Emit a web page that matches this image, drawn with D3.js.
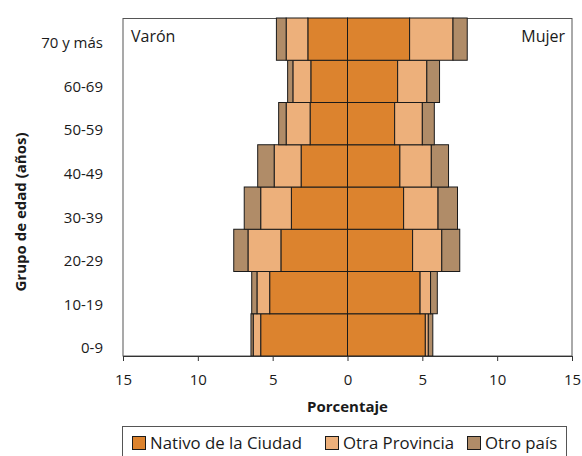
<!DOCTYPE html>
<html lang="es">
  <head>
    <meta charset="utf-8">
    <title>Pirámide por origen</title>
    <script type="text/javascript" src="https://cdn.jsdelivr.net/npm/d3@7"></script>
    <style type="text/css">
      body { margin: 0; background: #fff; }
      text { font-family: "Open Sans", "Noto Sans", sans-serif; fill: #1a1a1a; }
    </style>
  </head>
  <body>
    <script type="text/javascript">

      //Width and height
      var w = 582;
      var h = 456;

      //Age groups, bottom to top
      var categories = ["0-9", "10-19", "20-29", "30-39", "40-49", "50-59", "60-69", "70 y más"];

      //Percentages, men (drawn to the left)
      var varonNativo    = [5.8, 5.2, 4.45, 3.75, 3.1, 2.5, 2.45, 2.65];
      var varonProvincia = [0.5, 0.85, 2.2, 2.05, 1.8, 1.6, 1.2, 1.45];
      var varonOtroPais  = [0.15, 0.35, 0.95, 1.1, 1.1, 0.5, 0.35, 0.65];

      //Percentages, women (drawn to the right)
      var mujerNativo    = [5.2, 4.85, 4.35, 3.75, 3.5, 3.15, 3.35, 4.15];
      var mujerProvincia = [0.2, 0.7, 1.95, 2.3, 2.1, 1.85, 1.95, 2.9];
      var mujerOtroPais  = [0.3, 0.45, 1.2, 1.3, 1.15, 0.8, 0.85, 0.95];

      var seriesNames = ["Nativo de la Ciudad", "Otra Provincia", "Otro país"];
      var seriesColors = ["#dc832e", "#edb07b", "#b08c68"];
      var xTicks = [-15, -10, -5, 0, 5, 10, 15];

      var x = d3.scaleLinear().domain([-15, 15]).range([123, 572]);
      var y = d3.scaleBand().domain(categories).range([356, 18]).padding(0);
      var yLabel = d3.scalePoint().domain(categories).range([348, 43]);

      var svg = d3.select("body")
                  .append("svg")
                  .attr("width", w)
                  .attr("height", h);

      //Plot frame
      svg.append("rect")
         .attr("x", x(-15)).attr("y", 18.5)
         .attr("width", x(15) - x(-15)).attr("height", 356 - 18.5)
         .style("fill", "none")
         .style("stroke", "#555")
         .style("stroke-width", 1);

      //Build stacked segments
      var segs = [];
      var male = [varonNativo, varonProvincia, varonOtroPais];
      var female = [mujerNativo, mujerProvincia, mujerOtroPais];
      categories.forEach(function(c, i) {
        var accM = 0, accF = 0;
        for (var s = 0; s < 3; s++) {
          segs.push({ cat: c, s: s, x0: -accM - male[s][i], x1: -accM });
          accM += male[s][i];
          segs.push({ cat: c, s: s, x0: accF, x1: accF + female[s][i] });
          accF += female[s][i];
        }
      });

      svg.selectAll("rect.bar")
         .data(segs)
         .enter()
         .append("rect")
         .attr("class", "bar")
         .attr("x", function(d) { return x(d.x0); })
         .attr("width", function(d) { return x(d.x1) - x(d.x0); })
         .attr("y", function(d) { return y(d.cat); })
         .attr("height", y.bandwidth())
         .style("fill", function(d) { return seriesColors[d.s]; })
         .style("stroke", "#1a1a1a")
         .style("stroke-width", 1);

      //X axis
      var xAxis = d3.axisBottom(x)
                    .tickValues(xTicks)
                    .tickSize(5)
                    .tickFormat(function(d) { return Math.abs(d); });
      var gx = svg.append("g")
                  .attr("transform", "translate(0,356)")
                  .call(xAxis);
      gx.select(".domain").style("stroke", "#333");
      gx.selectAll(".tick line").style("stroke", "#333");
      gx.selectAll(".tick text")
        .attr("y", 24)
        .attr("dy", "0.35em")
        .style("font-size", "15px")
        .style("font-family", "\"Open Sans\", sans-serif")
        .style("fill", "#1a1a1a");

      //Y labels
      svg.selectAll("text.ylab")
         .data(categories)
         .enter()
         .append("text")
         .attr("class", "ylab")
         .attr("x", 103)
         .attr("y", function(d) { return yLabel(d); })
         .attr("dy", "0.35em")
         .attr("text-anchor", "end")
         .style("font-size", "15px")
         .text(function(d) { return d; });

      //Axis titles
      svg.append("text")
         .attr("x", x(0))
         .attr("y", 412)
         .attr("text-anchor", "middle")
         .style("font-size", "15px")
         .style("font-weight", "bold")
         .text("Porcentaje");

      svg.append("text")
         .attr("transform", "translate(26,212) rotate(-90)")
         .attr("text-anchor", "middle")
         .style("font-size", "15px")
         .style("font-weight", "bold")
         .text("Grupo de edad  (años)");

      //Side labels
      svg.append("text")
         .attr("x", 131).attr("y", 42)
         .style("font-size", "16px")
         .text("Varón");
      svg.append("text")
         .attr("x", 565).attr("y", 42)
         .attr("text-anchor", "end")
         .style("font-size", "16px")
         .text("Mujer");

      //Legend
      svg.append("rect")
         .attr("x", 122.5).attr("y", 426.5)
         .attr("width", 444).attr("height", 40)
         .style("fill", "#fff")
         .style("stroke", "#555");

      var legendX = [132, 325, 467];
      var lg = svg.selectAll("g.leg")
                  .data(seriesNames)
                  .enter()
                  .append("g")
                  .attr("class", "leg")
                  .attr("transform", function(d, i) { return "translate(" + legendX[i] + ",436)"; });
      lg.append("rect")
        .attr("x", 0.5).attr("y", 0.5)
        .attr("width", 13).attr("height", 13)
        .style("fill", function(d, i) { return seriesColors[i]; })
        .style("stroke", "#1a1a1a");
      lg.append("text")
        .attr("x", 18)
        .attr("y", 13)
        .style("font-size", "16.8px")
        .text(function(d) { return d; });

    </script>
  </body>
</html>
